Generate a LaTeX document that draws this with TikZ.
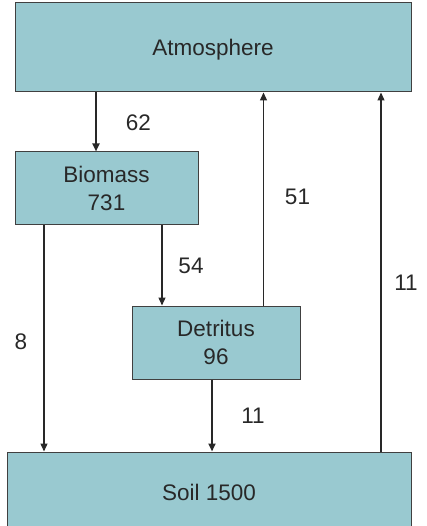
\documentclass[tikz,border=0pt]{standalone}
\usepackage{fontspec}
\setmainfont{Liberation Sans}
\usetikzlibrary{arrows.meta}
\definecolor{boxfill}{RGB}{153,201,208}
\definecolor{boxline}{RGB}{64,64,64}
\definecolor{ink}{RGB}{40,40,40}
\tikzset{
  pool/.style={draw=boxline, line width=1pt, fill=boxfill, text=ink,
    inner sep=0pt, align=center, font=\fontsize{22.5}{27.5}\selectfont},
  flow/.style={draw=ink, line width=1.3pt, -{Triangle[length=8pt,width=7pt]}},
  bigflow/.style={flow, line width=2.4pt},
  amount/.style={text=ink, font=\fontsize{22.5}{27.5}\selectfont, inner sep=0pt}
}
\begin{document}
\begin{tikzpicture}[x=1pt,y=-1pt]
  \useasboundingbox (0,0) rectangle (426,526);
  \begin{scope}
    \clip (0,0) rectangle (426,526);
    % carbon pools
    \node[pool, minimum width=396pt, minimum height=89pt, text height=22pt, text depth=5pt] (atm) at (213,47.5) {Atmosphere};
    \node[pool, minimum width=183pt, minimum height=73pt] (bio) at (106.5,188.5) {Biomass\\731};
    \node[pool, minimum width=168pt, minimum height=73pt] (det) at (216,342.5) {Detritus\\96};
    \node[pool, minimum width=404pt, minimum height=80pt] (soil) at (209,492) {Soil 1500};
  \end{scope}
  % x positions of the vertical fluxes
  \coordinate (xa) at (96,0);
  \coordinate (xb) at (44,0);
  \coordinate (xc) at (162,0);
  \coordinate (xd) at (263.5,0);
  \coordinate (xe) at (212,0);
  \coordinate (xf) at (381,0);
  % fluxes between pools
  \draw[bigflow] (xa |- atm.south) -- (xa |- bio.north);
  \draw[flow] (xb |- bio.south) -- (xb |- soil.north);
  \draw[flow] (xc |- bio.south) -- (xc |- det.north);
  \draw[flow] (xd |- det.north) -- (xd |- atm.south);
  \draw[bigflow] (xe |- det.south) -- (xe |- soil.north);
  \draw[flow] (xf |- soil.north) -- (xf |- atm.south);
  % flux labels
  \node[amount] (l62) at (138.5,123) {62};
  \node[amount] (l54) at (191,266) {54};
  \node[amount] (l51) at (297.5,197) {51};
  \node[amount] (l8) at (21,342) {8};
  \node[amount] (l11a) at (253,416) {11};
  \node[amount] (l11b) at (406,283) {11};
\end{tikzpicture}
\end{document}
